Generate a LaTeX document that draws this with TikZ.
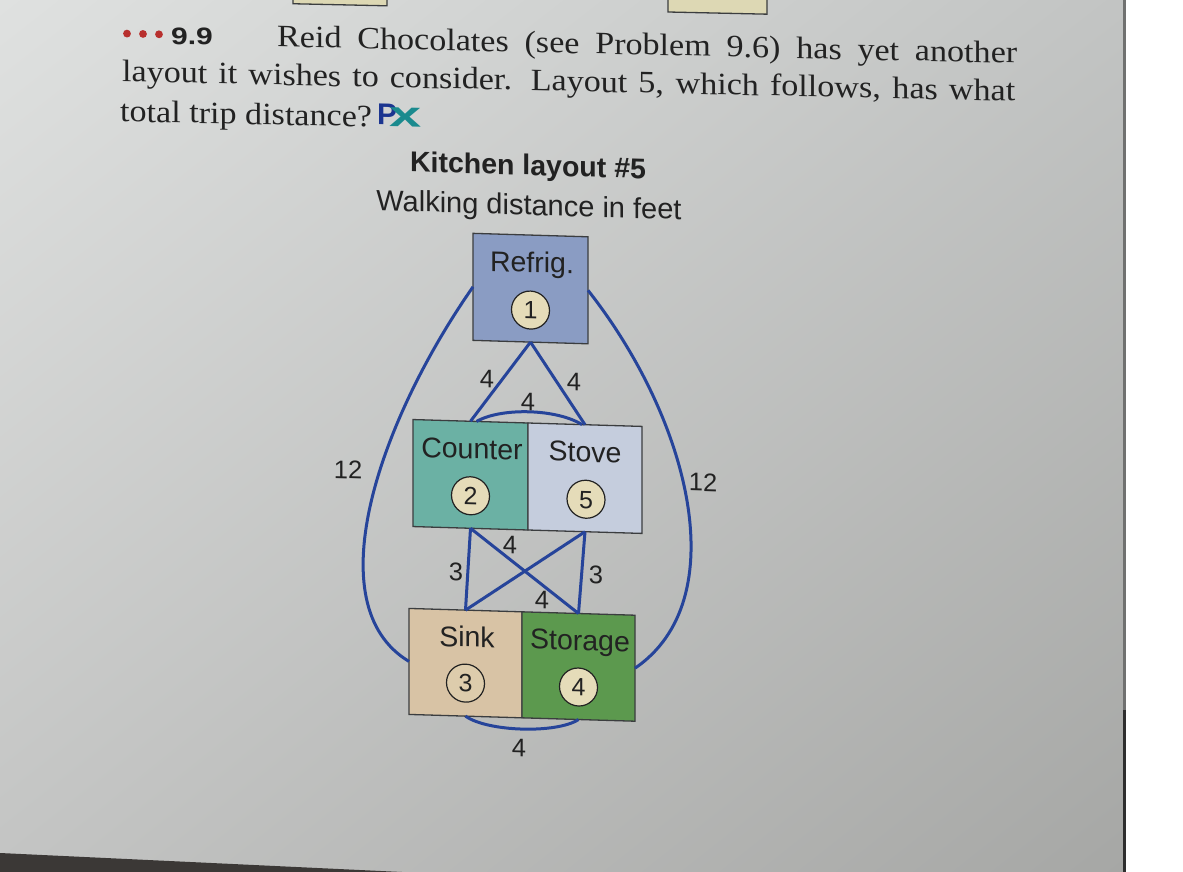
\documentclass[tikz,border=0pt]{standalone}
\usepackage{fontspec}
\usepackage{graphicx}
\setmainfont{Liberation Serif}
\newfontfamily\bodyserif[FakeStretch=1.1]{Liberation Serif}
\newfontfamily\hsans{Liberation Sans}
\usetikzlibrary{calc,shadings}

\definecolor{edgeblue}{HTML}{26449A}
\definecolor{boxline}{HTML}{3B3D3F}
\definecolor{textdark}{HTML}{222222}
\definecolor{refrigc}{HTML}{8A9CC3}
\definecolor{counterc}{HTML}{6BB1A4}
\definecolor{stovec}{HTML}{C5CDDD}
\definecolor{sinkc}{HTML}{D8C3A5}
\definecolor{storagec}{HTML}{5C994E}
\definecolor{circfill}{HTML}{E5DCB9}
\definecolor{topboxc}{HTML}{DDD8B4}
\definecolor{dotred}{HTML}{B8302E}
\definecolor{pxblue}{HTML}{1C3590}
\definecolor{pxteal}{HTML}{1A8A8E}
\definecolor{pageul}{HTML}{DFE1E0}
\definecolor{pageur}{HTML}{C2C4C3}
\definecolor{pagell}{HTML}{C3C4C3}
\definecolor{pagelr}{HTML}{A6A7A5}
\definecolor{edgeline}{HTML}{707170}
\definecolor{edgedark}{HTML}{2E2E2E}
\definecolor{cornerc}{HTML}{3B3836}

\tikzset{
  room/.style={draw=boxline, line width=1.3pt, minimum width=115pt, minimum height=107pt, inner sep=0pt, outer sep=0pt},
  roomlabel/.style={font=\hsans\fontsize{28.5}{30}\selectfont, text height=20.5pt, text depth=0pt, inner sep=0pt, text=textdark},
  num/.style={circle, draw=textdark, line width=1.2pt, fill=circfill, minimum size=38pt, inner sep=0pt, font=\hsans\fontsize{25}{27}\selectfont, text height=18pt, text depth=0pt, text=textdark},
  edgelab/.style={font=\hsans\fontsize{25.5}{27}\selectfont, text height=18.3pt, text depth=0pt, inner sep=0pt, text=textdark},
  walk/.style={draw=edgeblue, line width=3pt},
  bodyline/.style={anchor=base west, inner sep=0pt, font=\bodyserif\fontsize{31}{32}\selectfont, text=textdark},
}

\begin{document}
\begin{tikzpicture}[x=1pt,y=-1pt]
\useasboundingbox (0,0) rectangle (1183,872);
\begin{scope}
\clip (0,0) rectangle (1183,872);
% page
\shade[upper left=pageul, upper right=pageur, lower left=pagell, lower right=pagelr]
  (0,0) rectangle (1125,872);
\fill[white] (1125,0) rectangle (1183,872);
\draw[line width=2.5pt, draw=edgeline] (1124.5,0) -- (1124.5,872);
\draw[line width=3pt, draw=edgedark] (1124.5,710) -- (1124.5,872);
\fill[cornerc] (0,853) -- (402,872) -- (0,872) -- cycle;

% header text
\begin{scope}[cm={1,-0.022,0,1,(0pt,13.2pt)}, transform shape]
  \draw[boxline, line width=1.3pt, fill=topboxc] (293,-20) rectangle (387,10.5);
  \draw[boxline, line width=1.3pt, fill=topboxc] (668,-20) rectangle (767,10.5);
  \fill[dotred] (127,44) circle (3.9pt);
  \fill[dotred] (143,44) circle (3.9pt);
  \fill[dotred] (159,44) circle (3.9pt);
  \node[anchor=base west, inner sep=0pt, font=\hsans\bfseries\fontsize{24}{26}\selectfont, text=textdark] (pnum) at (171,53.5) {\scalebox{1.25}[1]{9.9}};
  \node[bodyline] (line1) at (277,54) {\makebox[740pt][s]{Reid Chocolates (see Problem 9.6) has yet another}};
  \node[bodyline] (line2) at (122,92) {\makebox[893pt][s]{layout it wishes to consider. Layout 5, which follows, has what}};
  \node[bodyline] (line3) at (120,132) {total trip distance?};
  \node[anchor=base west, inner sep=0pt] (pxlogo) at (377,129) {{\hsans\bfseries\fontsize{30}{30}\selectfont\color{pxblue}P}\kern-8pt{\hsans\bfseries\fontsize{34}{34}\selectfont\color{pxteal}\raisebox{-2pt}{\scalebox{1.7}[1.05]{x}}}};
\end{scope}

% diagram
\begin{scope}[cm={1,-0.03,0,1,(0pt,15.84pt)}, transform shape]
  \node[anchor=base, inner sep=0pt, font=\hsans\bfseries\fontsize{28.5}{30}\selectfont, text=textdark] (title) at (528,175) {Kitchen layout \#5};
  \node[anchor=base, inner sep=0pt, font=\hsans\fontsize{29}{30}\selectfont, text=textdark] (subtitle) at (529,215) {Walking distance in feet};

  \node[room, fill=refrigc] (refrig) at (530.5,288.5) {};
  \node[room, fill=counterc] (counter) at (470.5,476.5) {};
  \node[room, fill=stovec, minimum width=114pt] (stove) at (585,476.5) {};
  \node[room, fill=sinkc, minimum width=113pt, minimum height=106pt] (sink) at (465.5,665) {};
  \node[room, fill=storagec, minimum width=113pt, minimum height=106pt] (storage) at (578.5,665) {};

  \node[roomlabel] (refrigt) at ($(refrig.north)+(1.5,27)$) {Refrig.};
  \node[num] (n1) at ($(refrig.north)+(0,75)$) {1};
  \node[roomlabel] (countert) at ($(counter.north)+(1.5,27)$) {Counter};
  \node[num] (n2) at ($(counter.north)+(0,74.5)$) {2};
  \node[roomlabel] (stovet) at ($(stove.north)+(0,27)$) {Stove};
  \node[num] (n5) at ($(stove.north)+(1,74.5)$) {5};
  \node[roomlabel] (sinkt) at ($(sink.north)+(1.5,26.5)$) {Sink};
  \node[num, fill=sinkc!65!circfill] (n3) at ($(sink.north)+(0,73)$) {3};
  \node[roomlabel] (storaget) at ($(storage.north)+(1.5,26.5)$) {Storage};
  \node[num] (n4) at ($(storage.north)+(0,73.5)$) {4};

  % walking paths
  \draw[walk] (refrig.south) -- (counter.north);
  \draw[walk] (refrig.south) -- (stove.north);
  \draw[walk] ($(counter.north)+(6,0)$) .. controls +(25,-15) and +(-25,-15) .. ($(stove.north)+(-3,0)$);
  \draw[walk] (counter.south) -- (sink.north);
  \draw[walk] (stove.south) -- (storage.north);
  \draw[walk] (counter.south) -- (storage.north);
  \draw[walk] (stove.south) -- (sink.north);
  \draw[walk] (sink.south) .. controls +(22,15) and +(-22,15) .. (storage.south);
  \draw[walk] (refrig.west) .. controls (380,424.4) and (315,611.4) .. (sink.west);
  \draw[walk] (refrig.east) .. controls (690,415.1) and (735,593.8) .. (storage.east);

  % distances
  \node[edgelab] (d12a) at (487,380) {4};
  \node[edgelab] (d15) at (574,380.6) {4};
  \node[edgelab] (d25) at (528,402) {4};
  \node[edgelab] (d23) at (456,574) {3};
  \node[edgelab] (d54) at (596,573) {3};
  \node[edgelab] (d24) at (510,545.5) {4};
  \node[edgelab] (d53) at (542,599.6) {4};
  \node[edgelab] (d34) at (519,748) {4};
  \node[edgelab] (d13) at (348,475) {12};
  \node[edgelab] (d14) at (703,476.7) {12};
\end{scope}
\end{scope}
\end{tikzpicture}
\end{document}
